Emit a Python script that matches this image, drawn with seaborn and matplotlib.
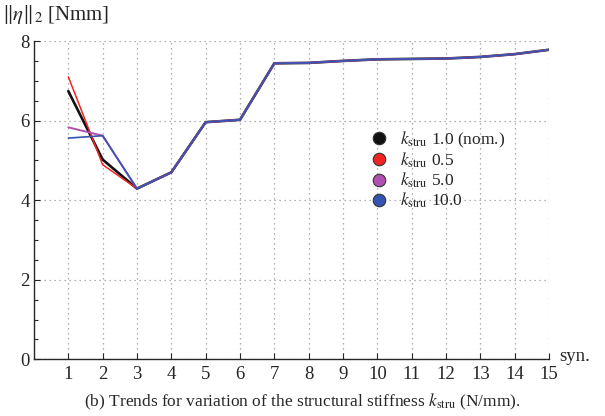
import numpy as np
import pandas as pd
import seaborn as sns
import matplotlib.pyplot as plt
from matplotlib.lines import Line2D

# synergy index on the x axis
syn = list(range(1, 16))

# ||eta||_2 [Nmm] for each structural stiffness
k_nom = [6.74, 5.02, 4.29, 4.70, 5.96, 6.02, 7.44, 7.45, 7.50, 7.54, 7.55, 7.56, 7.60, 7.67, 7.78]
k_05 = [7.10, 4.89, 4.29, 4.70, 5.96, 6.02, 7.44, 7.45, 7.50, 7.54, 7.55, 7.56, 7.60, 7.67, 7.78]
k_50 = [5.83, 5.62, 4.29, 4.70, 5.96, 6.02, 7.44, 7.45, 7.50, 7.54, 7.55, 7.56, 7.60, 7.67, 7.78]
k_100 = [5.56, 5.62, 4.29, 4.70, 5.96, 6.02, 7.44, 7.45, 7.50, 7.54, 7.55, 7.56, 7.60, 7.67, 7.78]

labels = [r'$k_{\rm stru}$ 1.0 (nom.)', r'$k_{\rm stru}$ 0.5',
          r'$k_{\rm stru}$ 5.0', r'$k_{\rm stru}$ 10.0']
colors = ['#111111', '#f02424', '#b050b0', '#3553b0']
widths = [1.9, 1.1, 1.4, 1.2]

sns.set_style('ticks')
plt.rcParams['font.family'] = ['Liberation Serif', 'DejaVu Serif']
plt.rcParams['mathtext.fontset'] = 'stix'

fig = plt.figure(figsize=(6.05, 4.16), dpi=100)
ax = fig.add_axes([0.0562, 0.1363, 0.8512, 0.7651])

for vals, c, lw in zip([k_nom, k_05, k_50, k_100], colors, widths):
    df = pd.DataFrame({'syn': syn, 'eta': vals})
    sns.lineplot(data=df, x='syn', y='eta', color=c, linewidth=lw, ax=ax, legend=False)

ax.set_xlim(0, 15)
ax.set_ylim(0, 8)
ax.set_xticks(syn)
ax.set_yticks([0, 2, 4, 6, 8])
ax.set_yticks(np.arange(0, 8.01, 0.5), minor=True)
ax.tick_params(axis='both', direction='in', labelsize=13.5, length=4, width=0.8)
ax.tick_params(axis='y', which='minor', direction='in', length=3, width=0.8)
ax.tick_params(axis='x', pad=5)
ax.tick_params(axis='y', pad=3)
ax.grid(True, which='major', linestyle=(0, (1, 3)), color='#999999', linewidth=0.9)
sns.despine(ax=ax, top=True, right=True)
ax.spines['left'].set_linewidth(1.0)
ax.spines['bottom'].set_linewidth(1.0)
ax.set_xlabel('')
ax.set_ylabel('')

fig.text(0.003, 0.965, r'$\Vert\eta\Vert_2$ [Nmm]', fontsize=15, va='center', ha='left')
fig.text(0.925, 0.143, 'syn.', fontsize=13.5, va='center', ha='left')
fig.text(0.5, 0.033, r'(b) Trends for variation of the structural stiffness $k_{\rm stru}$ (N/mm).',
         fontsize=12.5, va='center', ha='center')

handles = [Line2D([], [], marker='o', linestyle='', markersize=9, markerfacecolor=c,
                  markeredgecolor='#333333', markeredgewidth=0.8) for c in colors]
ax.legend(handles, labels, loc='center left', bbox_to_anchor=(0.623, 0.595), frameon=False,
          fontsize=12.5, handletextpad=0.2, labelspacing=0.05, borderaxespad=0)

fig.savefig('out.png', dpi=100)
